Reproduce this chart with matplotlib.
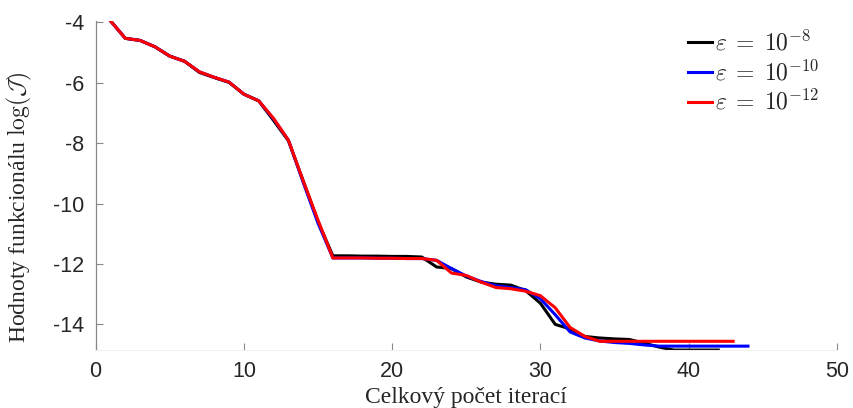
import matplotlib

matplotlib.use("Agg")
import matplotlib.pyplot as plt

# iteration counts
iters_8 = list(range(1, 43))
iters_10 = list(range(1, 45))
iters_12 = list(range(1, 44))

# log of the functional
log_j_8 = [
    -3.95, -4.53, -4.60, -4.81, -5.12, -5.29, -5.66, -5.83, -5.99, -6.38,
    -6.60, -7.25, -7.92, -9.25, -10.60, -11.73,
    -11.73, -11.74, -11.74, -11.75, -11.75, -11.77,
    -12.10, -12.15, -12.43, -12.60, -12.67, -12.70, -12.88, -13.30, -14.00,
    -14.15, -14.40, -14.45, -14.48, -14.50, -14.62, -14.75, -14.85, -14.85,
    -14.85, -14.85,
]
log_j_10 = [
    -3.95, -4.53, -4.60, -4.81, -5.12, -5.29, -5.64, -5.82, -5.98, -6.38,
    -6.60, -7.20, -7.90, -9.30, -10.65, -11.80,
    -11.80, -11.80, -11.81, -11.81, -11.82, -11.82,
    -11.88, -12.15, -12.40, -12.58, -12.72, -12.78, -12.85, -13.15, -13.68,
    -14.25, -14.45, -14.55, -14.60, -14.63, -14.68, -14.72, -14.72, -14.72,
    -14.72, -14.72, -14.72, -14.72,
]
log_j_12 = [
    -3.95, -4.53, -4.60, -4.81, -5.12, -5.29, -5.64, -5.82, -5.98, -6.38,
    -6.60, -7.18, -7.90, -9.25, -10.55, -11.80,
    -11.80, -11.80, -11.81, -11.81, -11.82, -11.82,
    -11.88, -12.30, -12.38, -12.60, -12.78, -12.82, -12.90, -13.05, -13.45,
    -14.10, -14.40, -14.56, -14.56, -14.56, -14.56, -14.56, -14.56, -14.56,
    -14.56, -14.56, -14.56,
]

labels = [
    r"$\varepsilon \;=\; 10^{-8}$",
    r"$\varepsilon \;=\; 10^{-10}$",
    r"$\varepsilon \;=\; 10^{-12}$",
]
colors = ["#000000", "#0000ff", "#ff0000"]

x_ticks = [0, 10, 20, 30, 40, 50]
y_ticks = [-14, -12, -10, -8, -6, -4]


def main() -> None:
    plt.rcParams["mathtext.fontset"] = "cm"
    plt.rcParams["axes.unicode_minus"] = False

    fig = plt.figure(figsize=(8.54, 4.08), dpi=100)
    ax = fig.add_axes([0.112, 0.142, 0.868, 0.807])

    series = [(iters_8, log_j_8), (iters_10, log_j_10), (iters_12, log_j_12)]
    for (xs, ys), color, label in zip(series, colors, labels):
        ax.plot(xs, ys, color=color, linewidth=2.2, label=label)

    ax.set_xlim(0, 50)
    ax.set_ylim(min(log_j_8), max(log_j_12))
    ax.set_xticks(x_ticks)
    ax.set_yticks(y_ticks)
    ax.set_xticklabels([str(v) for v in x_ticks])
    ax.set_yticklabels([str(v) for v in y_ticks])

    for side in ("top", "right"):
        ax.spines[side].set_visible(False)
    ax.spines["left"].set_color("#888888")
    ax.spines["left"].set_linewidth(0.9)
    ax.spines["bottom"].set_color("#f0f0f0")
    ax.tick_params(direction="in", length=5, width=0.8, color="#888888",
                   labelsize=15.5, labelcolor="#262626", pad=8)
    for lbl in ax.get_xticklabels() + ax.get_yticklabels():
        lbl.set_fontfamily("Liberation Sans")

    ax.set_xlabel(u"Celkový počet iterací", fontsize=17,
                  family="Liberation Serif", color="#262626")
    ax.set_ylabel(u"Hodnoty funkcionálu $\\log(\\mathcal{J})$", fontsize=17,
                  family="Liberation Serif", color="#262626")
    ax.xaxis.set_label_coords(0.5, -0.112)
    ax.yaxis.set_label_coords(-0.083, 0.435)

    leg = ax.legend(loc="upper right", frameon=False, fontsize=17,
                    handlelength=1.0, handletextpad=0.15, labelspacing=0.2,
                    borderaxespad=0.0, borderpad=0.0,
                    bbox_to_anchor=(0.977, 0.972))
    for txt in leg.get_texts():
        txt.set_color("#262626")

    fig.savefig("out.png", dpi=100)
    plt.close(fig)


if __name__ == "__main__":
    main()
